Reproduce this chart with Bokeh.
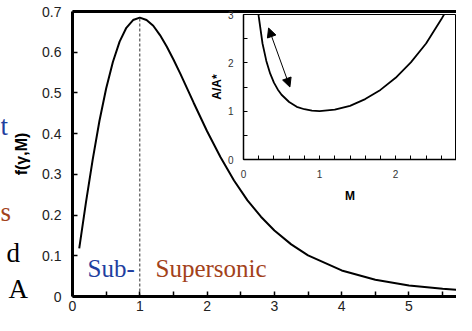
from bokeh.plotting import figure
from bokeh.models import Range1d, FixedTicker, LinearAxis, Label, Arrow, NormalHead
from bokeh.layouts import column
from bokeh.core.properties import value
from bokeh.embed import file_html
from bokeh.resources import INLINE

# ---- main curve: mass-flow function f(gamma, M) ----
mach = [0.1, 0.2, 0.3, 0.4, 0.5, 0.6, 0.7, 0.8, 0.9, 1.0, 1.1, 1.2, 1.3, 1.4,
        1.5, 1.6, 1.8, 2.0, 2.2, 2.4, 2.6, 2.8, 3.0, 3.25, 3.5, 4.0, 4.5,
        5.0, 5.5, 6.0]
flow_fn = [0.118, 0.231, 0.336, 0.431, 0.511, 0.576, 0.626, 0.660, 0.679,
           0.685, 0.679, 0.665, 0.642, 0.614, 0.582, 0.548, 0.476, 0.406,
           0.342, 0.285, 0.236, 0.196, 0.162, 0.128, 0.101, 0.064, 0.041,
           0.027, 0.019, 0.013]
mach_sonic = 1.0
main_x_ticks = [0, 1, 2, 3, 4, 5]
main_x_minor = [0.5, 1.5, 2.5, 3.5, 4.5, 5.5]
main_y_ticks = [0, 0.1, 0.2, 0.3, 0.4, 0.5, 0.6, 0.7]
main_y_labels = ["0", "0.1", "0.2", "0.3", "0.4", "0.5", "0.6", "0.7"]

# ---- inset: area ratio A/A* ----
inset_mach = [0.19, 0.2, 0.25, 0.3, 0.35, 0.4, 0.45, 0.5, 0.6, 0.7, 0.8, 0.9,
              1.0, 1.2, 1.4, 1.6, 1.8, 2.0, 2.2, 2.4, 2.6, 2.64]
inset_ratio = [3.11, 2.96, 2.40, 2.04, 1.78, 1.59, 1.45, 1.34, 1.19, 1.09,
               1.04, 1.01, 1.0, 1.03, 1.11, 1.25, 1.44, 1.69, 2.01, 2.40,
               2.90, 3.01]
inset_ticks = [0, 1, 2, 3]
inset_x_minor = [0.2, 0.4, 0.6, 0.8, 1.2, 1.4, 1.6, 1.8, 2.2, 2.4, 2.6, 2.8]
inset_y_minor = [0.5, 1.5, 2.5]
arrow_start = (0.61, 1.50)
arrow_end = (0.33, 2.72)

# ---- cropped slide text fragments at the far left ----
frag_text = ["t", "s", "d", "A"]
frag_color = ["#1f3f9f", "#a3421a", "black", "black"]

FONT = "Liberation Sans"
SERIF = "Liberation Serif"
BLUE = "#1f3f9f"
BROWN = "#a3421a"

p = figure(width=456, height=315, x_range=Range1d(0, 5.706), y_range=Range1d(0, 0.7),
           output_backend="svg", toolbar_location=None,
           min_border_left=72, min_border_right=0, min_border_top=11, min_border_bottom=19)
p.outline_line_color = None
p.grid.visible = False
p.background_fill_color = "white"

p.line(mach, flow_fn, line_color="black", line_width=2)
p.segment(x0=[mach_sonic], y0=[0], x1=[mach_sonic], y1=[max(flow_fn)],
          line_color="#333333", line_width=1, line_dash="3 2")

for ax in (p.xaxis[0], p.yaxis[0]):
    ax.axis_line_width = 3
    ax.major_tick_in = 5
    ax.major_tick_out = 0
    ax.minor_tick_in = 5
    ax.minor_tick_out = 0
    ax.major_tick_line_width = 1.5
    ax.minor_tick_line_width = 1.5
    ax.major_label_text_font = FONT
    ax.major_label_text_font_size = "14px"
    ax.major_label_text_color = "#222222"

p.xaxis.ticker = FixedTicker(ticks=main_x_ticks, minor_ticks=main_x_minor)
p.xaxis.major_label_standoff = 4
p.yaxis.ticker = FixedTicker(ticks=main_y_ticks, minor_ticks=[])
p.yaxis.major_label_overrides = {t: s for t, s in zip(main_y_ticks, main_y_labels)}
p.yaxis.major_label_standoff = 11
p.yaxis.axis_label = "f(γ,M)"
p.yaxis.axis_label_text_font = FONT
p.yaxis.axis_label_text_font_size = "16px"
p.yaxis.axis_label_text_font_style = "bold"
p.yaxis.axis_label_text_color = "black"
p.yaxis.axis_label_standoff = 9

top_axis = LinearAxis(ticker=FixedTicker(ticks=[], minor_ticks=[]),
                      major_label_text_font_size="0px", axis_line_width=3,
                      major_tick_line_color=None, minor_tick_line_color=None)
p.add_layout(top_axis, "above")

p.add_layout(Label(x=0.223, y=0.07, text="Sub-", text_font=SERIF, text_font_size="25px",
                   text_color=BLUE, text_baseline="alphabetic"))
p.add_layout(Label(x=1.233, y=0.07, text="Supersonic", text_font=SERIF,
                   text_font_size="25px", text_color=BROWN, text_baseline="alphabetic"))

# ---- inset figure ----
q = figure(width=285, height=197, x_range=Range1d(0, 2.80), y_range=Range1d(0, 3),
           output_backend="svg", toolbar_location=None,
           min_border_left=64, min_border_right=0, min_border_top=6, min_border_bottom=44)
q.border_fill_alpha = 0
q.background_fill_color = "white"
q.outline_line_color = "black"
q.outline_line_width = 1
q.grid.visible = False
q.line(inset_mach, inset_ratio, line_color="black", line_width=1.8)
q.add_layout(Arrow(x_start=arrow_start[0], y_start=arrow_start[1],
                   x_end=arrow_end[0], y_end=arrow_end[1],
                   line_width=1, line_color="black",
                   start=NormalHead(size=9, fill_color="black", line_color="black"),
                   end=NormalHead(size=9, fill_color="black", line_color="black")))
for ax in (q.xaxis[0], q.yaxis[0]):
    ax.axis_line_width = 1.5
    ax.major_tick_in = 4
    ax.major_tick_out = 0
    ax.minor_tick_in = 4
    ax.minor_tick_out = 0
    ax.major_label_text_font = FONT
    ax.major_label_text_font_size = "10px"
    ax.major_label_text_color = "#333333"
    ax.axis_label_text_font = FONT
    ax.axis_label_text_font_size = "12px"
    ax.axis_label_text_font_style = "bold"
    ax.axis_label_text_color = "black"
q.xaxis.ticker = FixedTicker(ticks=inset_ticks, minor_ticks=inset_x_minor)
q.yaxis.ticker = FixedTicker(ticks=inset_ticks, minor_ticks=inset_y_minor)
q.xaxis.major_label_standoff = 10
q.yaxis.major_label_standoff = 10
q.xaxis.axis_label = "M"
q.xaxis.axis_label_standoff = 8
q.yaxis.axis_label = "A/A*"
q.yaxis.axis_label_standoff = 1
q.margin = (-307, 0, 0, 171)

# ---- transparent overlay for the cut-off slide text at the far left ----
r = figure(width=456, height=315, x_range=Range1d(0, 456), y_range=Range1d(315, 0),
           output_backend="svg", toolbar_location=None, min_border=0,
           x_axis_location=None, y_axis_location=None)
r.frame_align = False
r.grid.visible = False
r.outline_line_color = None
r.background_fill_alpha = 0
r.border_fill_alpha = 0
r.text(x=[0, 0, 6, 8], y=[125, 211, 252, 288], text=frag_text, text_color=frag_color,
       text_font=value(SERIF), text_font_size=value("27px"),
       text_baseline="alphabetic", text_align="left")
r.margin = (-205, 0, 0, 0)

layout = column(p, q, r)
open("out.html", "w").write(file_html(layout, INLINE))
